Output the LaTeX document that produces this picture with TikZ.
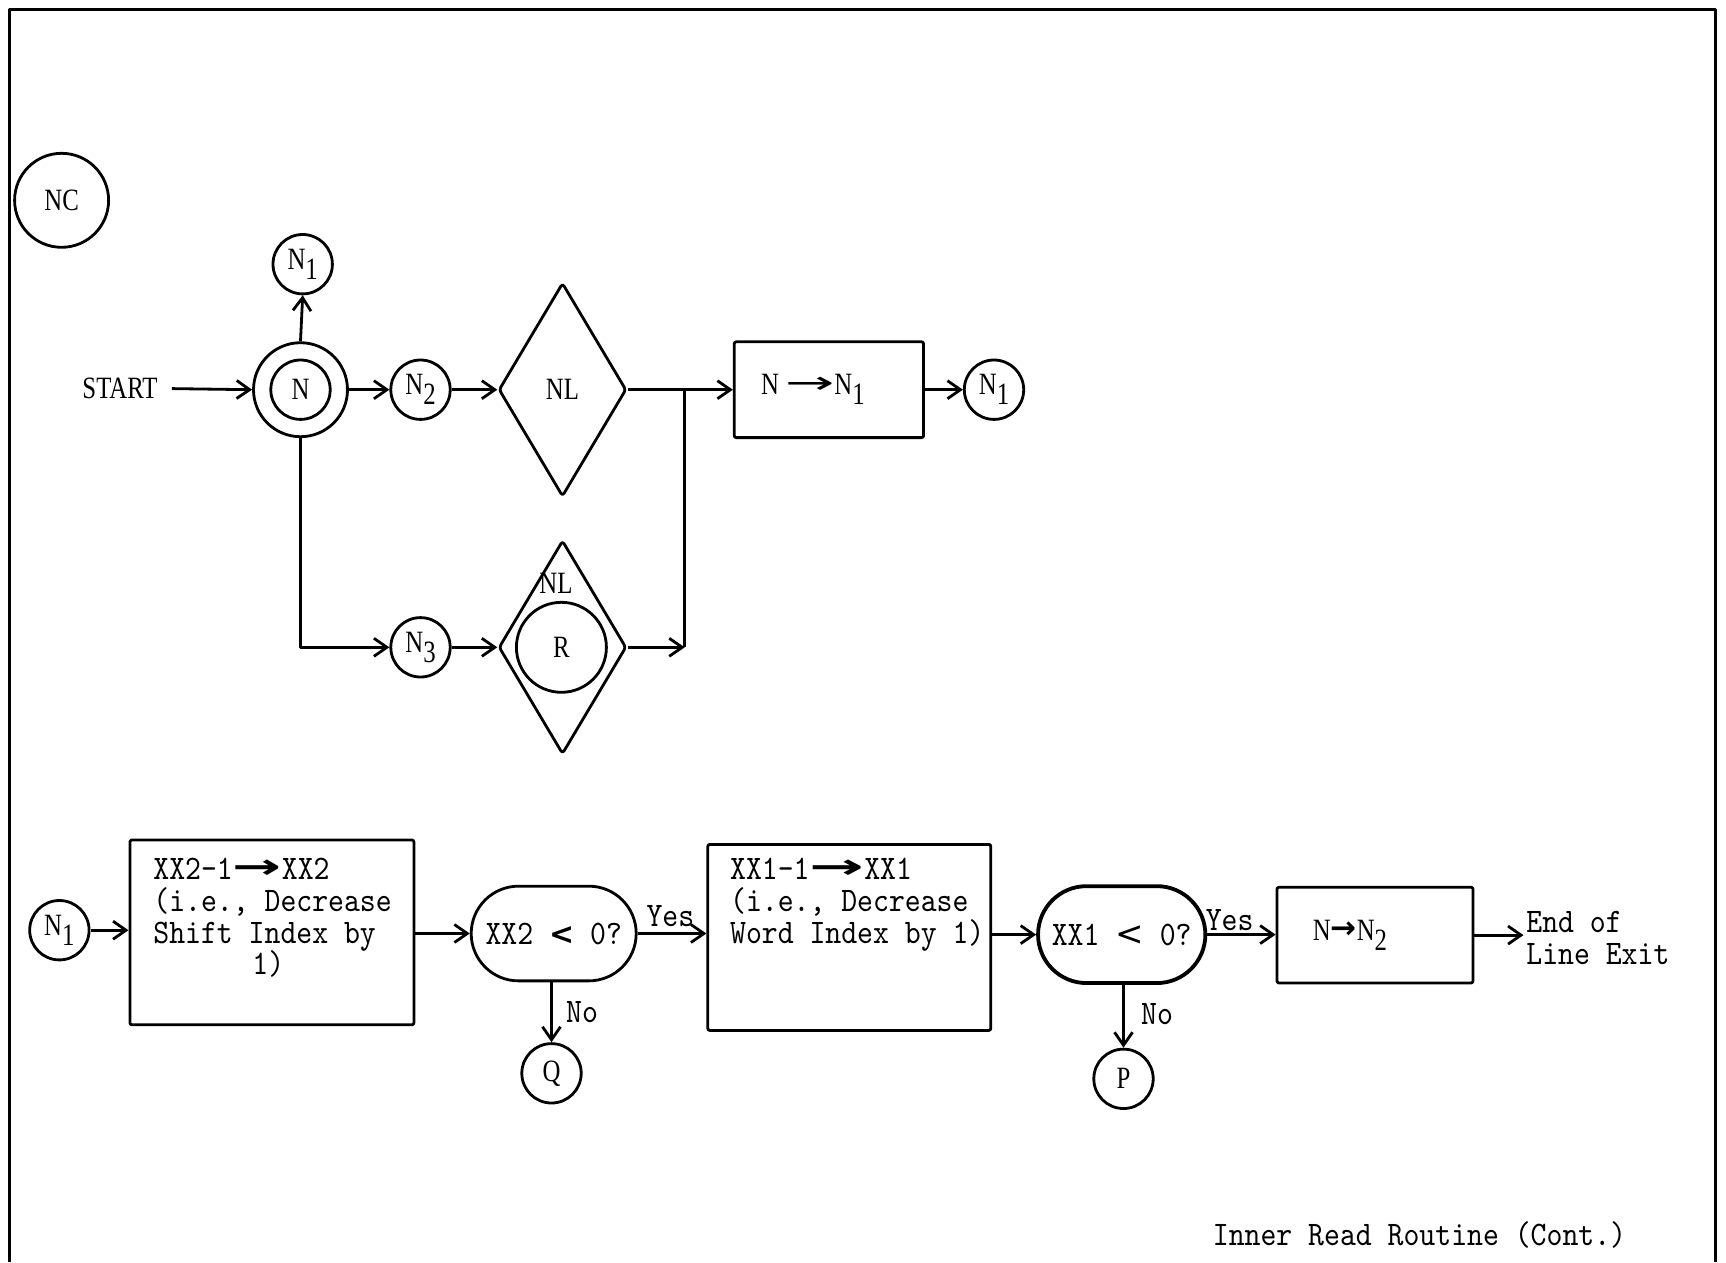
\documentclass[tikz,border=0pt]{standalone}
\usepackage{graphicx}
\usepackage{fontspec}
\newfontfamily\srf[FakeStretch=0.8]{Liberation Serif}
\newfontfamily\twf[FakeStretch=0.88]{lmmono10-regular.otf}
\newfontfamily\djv{DejaVu Sans}
\newfontfamily\djvb{DejaVu Sans Bold}
\usetikzlibrary{shapes.geometric,shapes.misc,arrows.meta}
\newcommand{\lsub}[1]{\raisebox{-0.32em}{#1}}
\newcommand{\srtext}{\srf\fontsize{31}{36}\selectfont}
\newcommand{\twtext}{\twf\fontsize{34.4}{31.6}\selectfont\lineskiplimit=-50pt}
\newcommand{\larr}[1]{\raisebox{0.05em}{\scalebox{#1}[1]{\djv →}}}
\newcommand{\barr}[1]{\raisebox{0.05em}{\scalebox{#1}[1]{\djvb →}}}
\begin{document}
\begin{tikzpicture}[x=1pt,y=-1pt,line width=2.8pt,line join=round,
 arr/.style={-{Straight Barb[length=13pt,width=18pt]}},
 circ/.style={draw,circle,inner sep=0pt,minimum size=59.4pt,font=\srtext},
 box/.style={draw,rectangle,inner sep=0pt,rounded corners=2pt},
 dia/.style={draw,diamond,inner sep=0pt,minimum width=127.6pt,minimum height=213.6pt,rounded corners=3pt,font=\srtext},
 stad/.style={draw,rounded rectangle,inner sep=0pt,font=\twtext},
 lbl/.style={inner sep=0pt,font=\twtext},
 slbl/.style={inner sep=0pt,font=\srtext}]
\useasboundingbox (0,0) rectangle (1726,1262);
\draw[line width=3pt] (9,1262) -- (9,9) -- (1715,9) -- (1715,1262);

% top part
\node[circ,minimum size=94pt] (NC) at (61.6,200.3) {NC};
\node[circ] (N1a) at (302.7,264.2) {N\lsub{1}};
\node[circ,minimum size=94pt] (Nout) at (300.5,389.7) {};
\node[circ] (Nin) at (300.5,389.7) {N};
\node[slbl] (START) at (120,388.6) {START};
\node[circ] (N2) at (420.5,389.7) {N\lsub{2}};
\node[dia] (NL1) at (562.5,389.7) {NL};
\node[box,minimum width=189.3pt,minimum height=95.8pt,font=\srtext] (B1) at (828.9,389.7) {N \larr{1.9}N\lsub{1}\hspace*{32pt}};
\node[circ] (N1b) at (994,389.7) {N\lsub{1}};
\node[circ] (N3) at (420.5,647.3) {N\lsub{3}};
\node[dia] (NL2) at (562.5,647.3) {};
\node[circ,minimum size=90pt] (R) at (561.4,647.3) {R};
\node[slbl] (NLt) at (556,583.4) {NL};
\coordinate (J1) at (684.7,389.7);
\coordinate (J2) at (684.7,647.3);

\draw[arr] ([xshift=13pt]START.east) -- (Nout.west);
\draw[arr] (Nout.north) -- (N1a.south);
\draw[arr] (Nout.east) -- (N2.west);
\draw[arr] (N2.east) -- (NL1.west);
\draw[arr] (NL1.east) -- (B1.west);
\draw[arr] (B1.east) -- (N1b.west);
\draw[arr] (Nout.south) |- (N3.west);
\draw[arr] (N3.east) -- (NL2.west);
\draw[arr] (NL2.east) -- (J2);
\draw (J2) -- (J1);

% bottom part
\node[circ] (N1c) at (59.4,930.2) {N\lsub{1}};
\node[box,minimum width=284pt,minimum height=184.8pt] (B2) at (271.9,932.4) {};
\node[lbl,anchor=north west,align=left] (B2t) at (152,857) {XX2-1\barr{1.7}XX2\\(i.e., Decrease\\Shift Index by\\\hspace*{99pt}1)};
\node[stad,minimum width=165pt,minimum height=94.7pt] (QA) at (553.7,933.5) {XX2 {\djvb\fontsize{30}{30}\selectfont <} 0?};
\node[lbl] (Y1) at (670.4,915.9) {Yes};
\node[box,minimum width=283pt,minimum height=186pt] (B3) at (849.3,937.4) {};
\node[lbl,anchor=north west,align=left] (B3t) at (728.7,857) {XX1-1\barr{1.9}XX1\\(i.e., Decrease\\Word Index by 1)};
\node[stad,line width=3.8pt,minimum width=167.3pt,minimum height=96.9pt] (QB) at (1121.7,934.6) {XX1 {\djv\fontsize{34}{34}\selectfont <} 0?};
\node[lbl] (Y2) at (1229.6,920.3) {Yes};
\node[box,minimum width=196pt,minimum height=95.8pt,font=\srtext] (B4) at (1375,935.1) {N\barr{1}N\lsub{2}\hspace*{50pt}};
\coordinate (E) at (1523.5,935.1);
\node[lbl,anchor=west,align=left] (Et) at (1525,938) {End of\\Line Exit};
\node[circ] (Q) at (551.5,1073.3) {Q};
\node[circ] (P) at (1123.5,1078.8) {P};
\node[lbl] (No1) at (582,1011.6) {No};
\node[lbl] (No2) at (1157,1013.8) {No};
\node[lbl] (cap) at (1419.5,1235) {Inner Read Routine (Cont.)};

\draw[arr] (N1c.east) -- (N1c.east -| B2.west);
\draw[arr] (B2.east |- QA.west) -- (QA.west);
\draw[arr] (QA.east) -- (QA.east -| B3.west);
\draw[arr] (B3.east |- QB.west) -- (QB.west);
\draw[arr] (QB.east) -- (QB.east -| B4.west);
\draw[arr] (B4.east) -- (E);
\draw[arr] (Q.north |- QA.south) -- (Q.north);
\draw[arr] (P.north |- QB.south) -- (P.north);
\end{tikzpicture}
\end{document}
